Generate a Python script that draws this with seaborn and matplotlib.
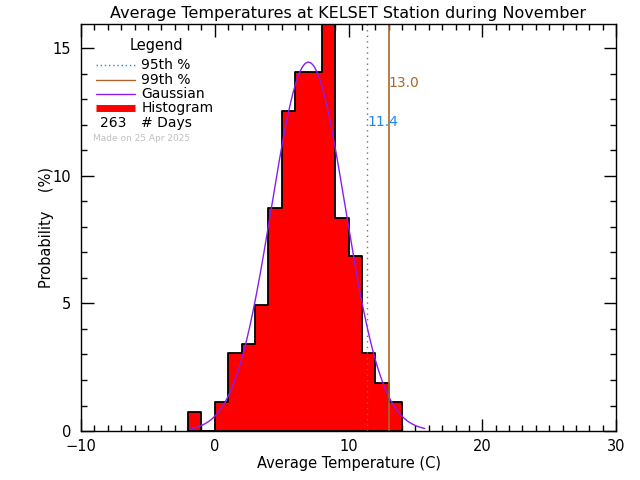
import numpy as np
import matplotlib
matplotlib.use('Agg')
import matplotlib.pyplot as plt
import seaborn as sns
from matplotlib.ticker import MultipleLocator

# Histogram data: 1-degree bins, days per bin out of 263 days
bin_edges = [-2, -1, 0, 1, 2, 3, 4, 5, 6, 7, 8, 9, 10, 11, 12, 13, 14]
day_counts = [2, 0, 3, 8, 9, 13, 23, 33, 37, 37, 42, 22, 18, 8, 5, 3]
n_days = 263

# Gaussian fit parameters and percentiles
gauss_mean = 7.0
gauss_sigma = 2.76
gauss_range = [-1.8, 15.7]
p95 = 11.4
p99 = 13.0

title = 'Average Temperatures at KELSET Station during November'
made_on = 'Made on 25 Apr 2025'

sns.set_style('white')
plt.rcParams['font.family'] = ['DejaVu Sans']
plt.rcParams['text.color'] = 'black'
plt.rcParams['axes.labelcolor'] = 'black'
plt.rcParams['xtick.color'] = 'black'
plt.rcParams['ytick.color'] = 'black'

centers = [e + 0.5 for e in bin_edges[:-1]]
percent = [c / n_days * 100 for c in day_counts]

gx = np.linspace(gauss_range[0], gauss_range[1], 300)
gy = 100.0 / (gauss_sigma * np.sqrt(2 * np.pi)) * np.exp(-(gx - gauss_mean) ** 2 / (2 * gauss_sigma ** 2))

brown = '#a8682c'
blue = '#1e88f0'
purple = '#8a1cf0'

fig = plt.figure(figsize=(6.4, 4.8), dpi=100)
ax = fig.add_axes([0.1266, 0.102, 0.8359, 0.849])

sns.histplot(x=centers, weights=percent, bins=bin_edges, element='step', fill=True,
             facecolor='red', edgecolor='black', alpha=1, linewidth=1.3, ax=ax)
sns.lineplot(x=gx, y=gy, color=purple, linewidth=1, ax=ax)

ax.axvline(p95, color=brown, linestyle=(0, (1, 3)), linewidth=1)
ax.axvline(p99, color=brown, linewidth=1.2)
ax.text(p95, 12.1, f'{p95:.1f}', color=blue, fontsize=10, va='center', ha='left')
ax.text(p99, 13.65, f'{p99:.1f}', color=brown, fontsize=10, va='center', ha='left')

ax.set_xlim(-10, 30)
ax.set_ylim(0, max(percent))
ax.xaxis.set_major_locator(MultipleLocator(10))
ax.xaxis.set_minor_locator(MultipleLocator(1))
ax.yaxis.set_major_locator(MultipleLocator(5))
ax.yaxis.set_minor_locator(MultipleLocator(1))
ax.tick_params(which='both', direction='in', top=True, right=True, bottom=True, left=True,
               labelsize=10.5, color='black', width=1)
ax.tick_params(which='major', length=9)
ax.tick_params(which='minor', length=4.5)
ax.tick_params(axis='y', pad=7)
ax.tick_params(axis='x', pad=6)
for s in ax.spines.values():
    s.set_color('black')
    s.set_linewidth(1)

ax.set_title(title, fontsize=11.5, pad=4)
ax.set_xlabel('Average Temperature (C)', fontsize=10.5, labelpad=1)
ax.set_ylabel('Probability    (%)', fontsize=10.5)
ax.yaxis.set_label_coords(-0.05, 0.5)

# hand drawn legend box in the top-left corner
ax.text(0.09, 0.945, 'Legend', transform=ax.transAxes, fontsize=10.5, va='center')
rows = [0.898, 0.862, 0.827, 0.792, 0.755]
ax.plot([0.028, 0.1], [rows[0]] * 2, transform=ax.transAxes, color=blue, linestyle=(0, (1, 2)), lw=1)
ax.plot([0.028, 0.1], [rows[1]] * 2, transform=ax.transAxes, color=brown, lw=1)
ax.plot([0.028, 0.1], [rows[2]] * 2, transform=ax.transAxes, color=purple, lw=1)
ax.plot([0.028, 0.1], [rows[3]] * 2, transform=ax.transAxes, color='red', lw=5, solid_capstyle='butt')
for r, lab in zip(rows[:4], ['95th %', '99th %', 'Gaussian', 'Histogram']):
    ax.text(0.113, r, lab, transform=ax.transAxes, fontsize=10, va='center')
ax.text(0.035, rows[4], str(n_days), transform=ax.transAxes, fontsize=10, va='center')
ax.text(0.113, rows[4], '# Days', transform=ax.transAxes, fontsize=10, va='center')
ax.text(0.022, 0.717, made_on, transform=ax.transAxes, fontsize=6.5, color='#c0c0c0', va='center')

fig.savefig('out.png', dpi=100)
